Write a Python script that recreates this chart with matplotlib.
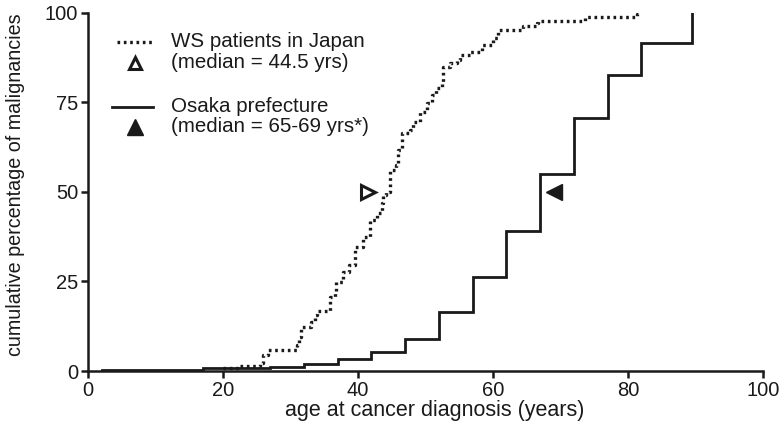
import matplotlib.pyplot as plt
from matplotlib.lines import Line2D

plt.rcParams["font.family"] = ["Liberation Sans", "DejaVu Sans"]

# WS patients in Japan: cumulative % (step changes at each age)
ws_age = [20.0, 22.5, 25.5, 26.0, 26.7, 30.9, 31.2, 31.6, 33.1, 33.6, 33.9, 35.9, 36.6, 36.8,
          37.8, 38.6, 39.6, 40.8, 41.8, 42.8, 43.5, 43.7, 44.2, 44.7, 45.7, 46.0, 46.5, 47.7,
          48.2, 49.2, 50.2, 50.9, 51.6, 52.4, 52.6, 53.6, 54.6, 55.1, 56.6, 58.3, 60.0, 60.8,
          64.5, 66.5, 66.7, 73.6, 81.3, 82.0]
ws_pct = [0.8, 1.4, 2.3, 4.5, 6.0, 7.3, 9.4, 12.4, 13.8, 15.6, 16.8, 20.7, 21.7, 24.9,
          27.7, 29.6, 34.7, 37.5, 42.1, 44.0, 46.8, 49.1, 50.0, 56.1, 57.5, 61.7, 66.3, 67.3,
          69.6, 72.4, 74.7, 77.0, 78.9, 80.7, 84.9, 85.9, 86.8, 88.2, 89.1, 90.9, 92.8, 95.1,
          96.4, 97.0, 97.8, 98.9, 99.6, 99.6]

# Osaka prefecture (5-year age groups)
osaka_age = [2, 17, 27, 32, 37, 42, 47, 52, 57, 62, 67, 72, 77, 82, 89.5]
osaka_pct = [0.3, 0.8, 1.2, 2.0, 3.3, 5.4, 8.8, 16.5, 26.3, 39.1, 55.1, 70.6, 82.7, 91.6, 100]

ws_median = 44.5
osaka_median = 67
median_pct = 50

ink = "#1a1a1a"

fig = plt.figure(figsize=(7.83, 4.36), dpi=100)
ax = fig.add_axes([0.1124, 0.149, 0.862, 0.822])

ax.plot(osaka_age, osaka_pct, drawstyle="steps-post", color=ink, lw=2.0, solid_joinstyle="miter")
ax.plot(ws_age, ws_pct, drawstyle="steps-post", color=ink, lw=2.4, linestyle=(0, (0.8, 1.1)))

# median markers
ax.plot(ws_median - 3, median_pct, marker=">", markersize=10, markerfacecolor="white",
        markeredgecolor=ink, markeredgewidth=2.2, linestyle="none")
ax.plot(osaka_median + 2, median_pct, marker="<", markersize=11, color=ink, linestyle="none")

# legend drawn by hand
tr = ax.transAxes
ax.add_line(Line2D([0.043, 0.099], [0.919, 0.919], transform=tr, color=ink, lw=2.4,
                   linestyle=(0, (0.8, 1.1))))
ax.plot(0.07, 0.86, transform=tr, marker="^", markersize=9, markerfacecolor="white",
        markeredgecolor=ink, markeredgewidth=2.2)
ax.add_line(Line2D([0.036, 0.096], [0.737, 0.737], transform=tr, color=ink, lw=2.0))
ax.plot(0.07, 0.681, transform=tr, marker="^", markersize=11, color=ink)
fs = 14.8
ax.text(0.123, 0.919, "WS patients in Japan", transform=tr, fontsize=fs, va="center", color=ink)
ax.text(0.123, 0.86, "(median = 44.5 yrs)", transform=tr, fontsize=fs, va="center", color=ink)
ax.text(0.123, 0.737, "Osaka prefecture", transform=tr, fontsize=fs, va="center", color=ink)
ax.text(0.123, 0.681, "(median = 65-69 yrs*)", transform=tr, fontsize=fs, va="center", color=ink)

ax.set_xlim(0, 100)
ax.set_ylim(0, 100)
ax.set_xticks([0, 20, 40, 60, 80, 100])
ax.set_yticks([0, 25, 50, 75, 100])
for s in ["top", "right"]:
    ax.spines[s].set_visible(False)
for s in ["left", "bottom"]:
    ax.spines[s].set_linewidth(1.8)
    ax.spines[s].set_color(ink)
ax.tick_params(direction="out", length=5, width=1.8, labelsize=14.5, colors=ink, pad=2)
ax.set_xlabel("age at cancer diagnosis (years)", fontsize=15.5, color=ink)
ax.set_ylabel("cumulative percentage of malignancies", fontsize=14.2, color=ink)
ax.xaxis.set_label_coords(0.514, -0.08)
ax.yaxis.set_label_coords(-0.093, 0.52)
for spine in ax.spines.values():
    spine.set_clip_on(False)

fig.savefig("out.png", dpi=100)
